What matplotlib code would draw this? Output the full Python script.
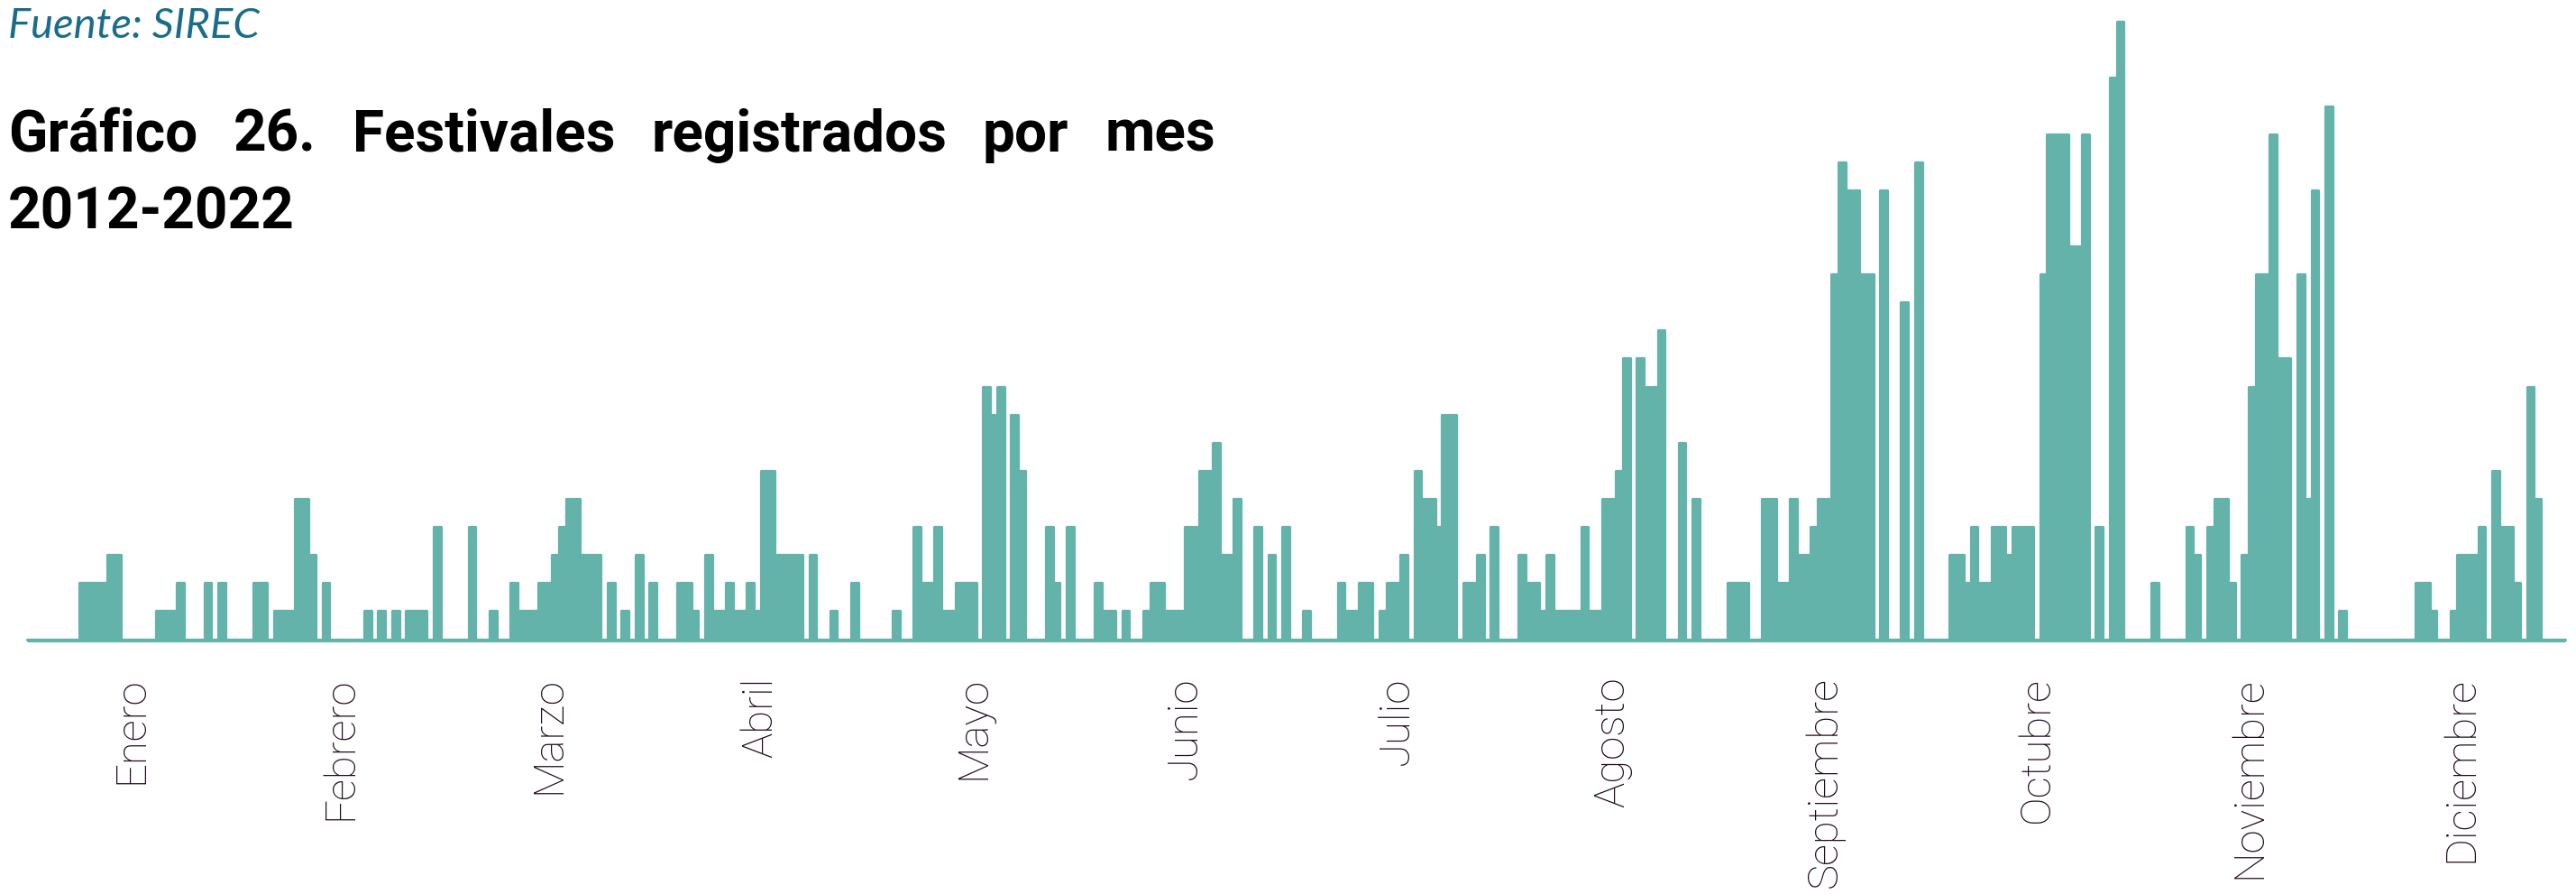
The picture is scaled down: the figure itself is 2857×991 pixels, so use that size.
import numpy as np
import matplotlib
matplotlib.use('Agg')
import matplotlib.pyplot as plt

# festivales por dia del año (acumulado 2012-2022), un valor por dia
enero = [0, 0, 0, 0, 0, 0, 0, 0, 2, 2, 2, 2, 3, 3, 0, 0, 0, 0, 0, 1, 1, 1, 2, 0, 0, 0, 2, 0, 2, 0, 0]
febrero = [0, 0, 2, 2, 0, 1, 1, 1, 5, 5, 3, 0, 2, 0, 0, 0, 0, 0, 1, 0, 1, 0, 1, 0, 1, 1, 1, 0, 4]
marzo = [0, 0, 0, 0, 4, 0, 0, 1, 0, 0, 2, 1, 1, 1, 2, 2, 3, 4, 5, 5, 3, 3, 3, 0, 2, 0, 1, 0, 3, 0, 2]
abril = [0, 0, 0, 2, 2, 1, 0, 3, 1, 1, 2, 1, 1, 2, 1, 6, 6, 3, 3, 3, 3, 0, 3, 0, 0, 1, 0, 0, 2, 0]
mayo = [0, 0, 0, 0, 1, 0, 0, 4, 2, 2, 4, 1, 1, 2, 2, 2, 0, 9, 8, 9, 0, 8, 6, 0, 0, 0, 4, 2, 0, 4, 0]
junio = [0, 0, 2, 1, 1, 0, 1, 0, 0, 1, 2, 2, 1, 1, 1, 4, 4, 6, 6, 7, 3, 3, 5, 0, 0, 4, 0, 3, 0, 4]
julio = [0, 0, 1, 0, 0, 0, 0, 2, 1, 1, 2, 2, 0, 1, 2, 2, 3, 0, 6, 5, 5, 4, 8, 8, 0, 2, 2, 3, 0, 4, 0]
agosto = [0, 0, 3, 2, 2, 1, 3, 1, 1, 1, 1, 4, 1, 1, 5, 5, 6, 10, 0, 10, 9, 9, 11, 0, 0, 7, 0, 5, 0, 0, 0]
septiembre = [0, 2, 2, 2, 0, 0, 5, 5, 2, 2, 5, 3, 3, 4, 5, 5, 13, 17, 16, 16, 13, 13, 0, 16, 0, 0, 12, 0, 17, 0]
octubre = [0, 0, 0, 3, 3, 2, 4, 2, 2, 4, 4, 3, 4, 4, 4, 0, 13, 18, 18, 18, 14, 14, 18, 0, 4, 0, 20, 22, 0, 0, 0]
noviembre = [0, 2, 0, 0, 0, 0, 4, 3, 0, 4, 5, 5, 2, 0, 3, 9, 13, 13, 18, 10, 10, 0, 13, 5, 16, 0, 19, 0, 1, 0]
diciembre = [0, 0, 0, 0, 0, 0, 0, 0, 0, 2, 2, 1, 0, 0, 1, 3, 3, 3, 4, 0, 6, 4, 4, 2, 0, 9, 5, 0, 0, 0, 0]

meses = ['Enero', 'Febrero', 'Marzo', 'Abril', 'Mayo', 'Junio', 'Julio',
         'Agosto', 'Septiembre', 'Octubre', 'Noviembre', 'Diciembre']
por_mes = [enero, febrero, marzo, abril, mayo, junio, julio,
           agosto, septiembre, octubre, noviembre, diciembre]

valores = np.array(sum(por_mes, []), dtype=float)
dias = np.arange(len(valores))

# posicion de cada etiqueta: mitad del mes
largos = np.array([len(m) for m in por_mes])
inicios = np.concatenate([[0], np.cumsum(largos)[:-1]])
pos_meses = inicios + largos / 2 - 0.5

W, H = 2857, 991
verde = '#63b3ab'
morado = '#1f081d'

fig = plt.figure(figsize=(W / 100, H / 100), dpi=100)
fig.patch.set_facecolor('white')

ax = fig.add_axes([30 / W, 282.5 / H, 2815 / W, 22.6 * 31.1 / H])
ax.fill_between(dias, valores, -0.1, step='mid', color=verde, lw=0, clip_on=False)
ax.plot(dias, valores, drawstyle='steps-mid', color=verde, lw=2.3,
        solid_joinstyle='round', solid_capstyle='round', clip_on=False)
ax.set_xlim(0, len(valores) - 1)
ax.set_ylim(0, 22.6)

for s in ax.spines.values():
    s.set_visible(False)
ax.set_yticks([])
ax.set_xticks(pos_meses)
ax.set_xticklabels(meses, rotation=90, va='top', ha='center',
                   fontsize=34, fontfamily='Roboto', fontweight='light', color=morado)
ax.tick_params(axis='x', length=0, pad=30)

# fuente
fig.text(9 / W, 1 - 42 / H, 'Fuente: SIREC', fontsize=34, fontfamily='Lato',
         fontweight='normal', style='italic', color='#1a6d8a', va='baseline')

# titulo justificado en la primera linea
palabras = ['Gráfico', '26.', 'Festivales', 'registrados', 'por', 'mes']
x_ini, x_fin = 9, 1348
textos = [fig.text(0, 1 - 168 / H, p, fontsize=46, fontfamily='Roboto',
                   fontweight='bold', color='black', va='baseline') for p in palabras]
fig.canvas.draw()
r = fig.canvas.get_renderer()
anchos = [t.get_window_extent(r).width for t in textos]
hueco = (x_fin - x_ini - sum(anchos)) / (len(palabras) - 1)
x = x_ini
for t, a in zip(textos, anchos):
    t.set_x(x / W)
    x += a + hueco

fig.text(x_ini / W, 1 - 253 / H, '2012-2022', fontsize=46, fontfamily='Roboto',
         fontweight='bold', color='black', va='baseline')

fig.savefig('out.png', dpi=100, facecolor='white')
